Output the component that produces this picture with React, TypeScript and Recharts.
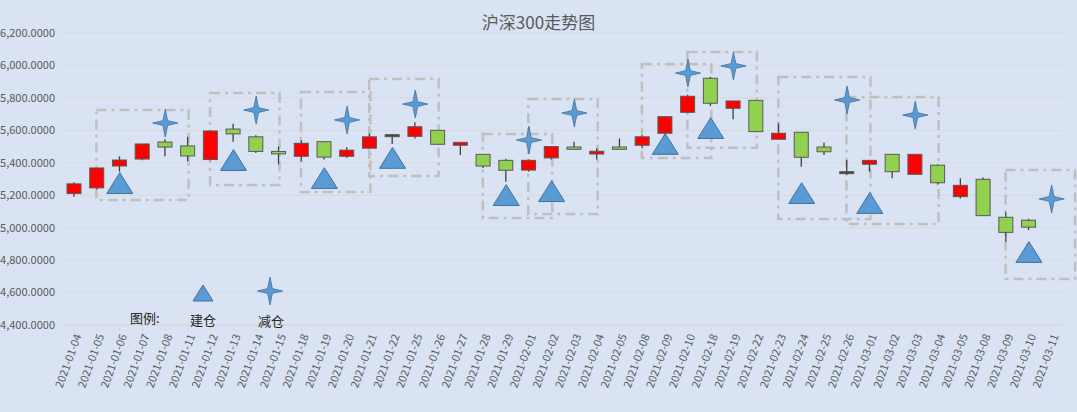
import React from 'react';
import {
  ComposedChart, Bar, Scatter, XAxis, YAxis, CartesianGrid, ReferenceArea,
} from 'recharts';

const dates = [
  '2021-01-04', '2021-01-05', '2021-01-06', '2021-01-07', '2021-01-08', '2021-01-11', '2021-01-12',
  '2021-01-13', '2021-01-14', '2021-01-15', '2021-01-18', '2021-01-19', '2021-01-20', '2021-01-21',
  '2021-01-22', '2021-01-25', '2021-01-26', '2021-01-27', '2021-01-28', '2021-01-29', '2021-02-01',
  '2021-02-02', '2021-02-03', '2021-02-04', '2021-02-05', '2021-02-08', '2021-02-09', '2021-02-10',
  '2021-02-18', '2021-02-19', '2021-02-22', '2021-02-23', '2021-02-24', '2021-02-25', '2021-02-26',
  '2021-03-01', '2021-03-02', '2021-03-03', '2021-03-04', '2021-03-05', '2021-03-08', '2021-03-09',
  '2021-03-10', '2021-03-11',
];

const opens = [5210, 5245, 5380, 5423, 5528, 5504, 5420, 5608, 5560, 5470, 5440, 5530, 5440, 5490,
  5567, 5563, 5600, 5508, 5452, 5415, 5355, 5430, 5497, 5454, 5497, 5508, 5582, 5711, 5921, 5736,
  5785, 5545, 5588, 5497, 5339, 5391, 5452, 5329, 5385, 5191, 5298, 5064, 5046, null];
const closes = [5270, 5368, 5417, 5516, 5497, 5442, 5596, 5578, 5470, 5455, 5520, 5435, 5478, 5560,
  5567, 5622, 5514, 5526, 5380, 5354, 5415, 5500, 5483, 5471, 5483, 5560, 5684, 5810, 5767, 5781,
  5592, 5582, 5434, 5468, 5339, 5415, 5345, 5452, 5277, 5261, 5074, 4971, 5003, null];
const highs = [5280, 5368, 5440, 5516, 5545, 5560, 5600, 5640, 5570, 5500, 5540, 5535, 5495, 5580,
  5575, 5650, 5600, 5526, 5452, 5425, 5420, 5500, 5530, 5490, 5550, 5570, 5684, 5820, 5930, 5781,
  5785, 5643, 5588, 5525, 5417, 5415, 5452, 5452, 5390, 5304, 5310, 5095, 5055, null];
const lows = [5190, 5235, 5345, 5415, 5440, 5410, 5415, 5530, 5460, 5390, 5410, 5420, 5430, 5490,
  5515, 5550, 5510, 5448, 5368, 5283, 5345, 5420, 5483, 5420, 5483, 5490, 5550, 5705, 5750, 5668,
  5592, 5545, 5376, 5448, 5325, 5345, 5304, 5325, 5265, 5180, 5074, 4914, 4985, null];

// 建仓 (triangle) and 减仓 (star) markers
const buyPoints: Record<string, number> = {
  '2021-01-06': 5275, '2021-01-13': 5417, '2021-01-19': 5306, '2021-01-22': 5430, '2021-01-29': 5201,
  '2021-02-02': 5225, '2021-02-09': 5516, '2021-02-18': 5614, '2021-02-24': 5213, '2021-03-01': 5152,
  '2021-03-10': 4850,
};
const sellPoints: Record<string, number> = {
  '2021-01-08': 5645, '2021-01-14': 5725, '2021-01-20': 5664, '2021-01-25': 5762, '2021-02-01': 5540,
  '2021-02-03': 5707, '2021-02-10': 5953, '2021-02-19': 5997, '2021-02-26': 5787, '2021-03-03': 5694,
  '2021-03-11': 5177,
};

// dashed boxes: [from, to, top, bottom]
const boxes: [string, string, number, number][] = [
  ['2021-01-06', '2021-01-08', 5725, 5170],
  ['2021-01-13', '2021-01-14', 5830, 5263],
  ['2021-01-19', '2021-01-20', 5836, 5220],
  ['2021-01-22', '2021-01-25', 5916, 5318],
  ['2021-01-29', '2021-02-01', 5577, 5060],
  ['2021-02-02', '2021-02-03', 5793, 5084],
  ['2021-02-09', '2021-02-10', 6009, 5430],
  ['2021-02-18', '2021-02-19', 6083, 5492],
  ['2021-02-24', '2021-02-26', 5929, 5053],
  ['2021-03-01', '2021-03-03', 5805, 5022],
  ['2021-03-10', '2021-03-11', 5356, 4684],
];

const yTicks = [4400, 4600, 4800, 5000, 5200, 5400, 5600, 5800, 6000, 6200];

const data = dates.map((d, i) => ({
  date: d,
  open: opens[i],
  close: closes[i],
  high: highs[i],
  low: lows[i],
  range: highs[i] == null ? null : [lows[i], highs[i]],
  buy: buyPoints[d] ?? null,
  sell: sellPoints[d] ?? null,
}));

const Candle = (props: any) => {
  const { x, y, width, height, payload } = props;
  if (payload.high == null) return null;
  const k = height / (payload.high - payload.low);
  const cx = x + width / 2;
  const top = Math.max(payload.open, payload.close);
  const bot = Math.min(payload.open, payload.close);
  const by = y + (payload.high - top) * k;
  const bh = Math.max((top - bot) * k, 1.5);
  const up = payload.close > payload.open;
  const doji = payload.close === payload.open;
  return (
    <g>
      <line x1={cx} x2={cx} y1={y} y2={y + height} stroke="#404040" strokeWidth={1.3} />
      <rect x={x} y={doji ? by - 1 : by} width={width} height={doji ? 2 : bh}
        fill={doji ? '#404040' : up ? '#ff0000' : '#92d050'} stroke="#595959" strokeWidth={1} />
    </g>
  );
};

const triPath = (cx: number, cy: number, w: number) =>
  `M${cx},${cy - w * 0.4} L${cx + w / 2},${cy + w * 0.4} L${cx - w / 2},${cy + w * 0.4} Z`;
const starPath = (cx: number, cy: number, r: number) => {
  const s = r * 0.17;
  return `M${cx},${cy - r} L${cx + s},${cy - s} L${cx + r * 0.9},${cy} L${cx + s},${cy + s} ` +
    `L${cx},${cy + r} L${cx - s},${cy + s} L${cx - r * 0.9},${cy} L${cx - s},${cy - s} Z`;
};

const Triangle = (props: any) => {
  if (props.payload?.buy == null) return null;
  return <path d={triPath(props.cx, props.cy, 26)} fill="#5b9bd5" stroke="#41719c" strokeWidth={1} />;
};
const Star = (props: any) => {
  if (props.payload?.sell == null) return null;
  return <path d={starPath(props.cx, props.cy, 14)} fill="#5b9bd5" stroke="#41719c" strokeWidth={0.8} />;
};

const Box = (props: any) => {
  const { x, y, width, height } = props;
  return (
    <rect x={x - 12} y={y} width={width + 24} height={height} fill="none"
      stroke="#bfbfbf" strokeWidth={2.5} strokeDasharray="10 5 3 5" />
  );
};

const fmt = (v: number) =>
  v.toLocaleString('en-US', { minimumFractionDigits: 4, maximumFractionDigits: 4 });

const font = '"Microsoft YaHei", "Noto Sans CJK SC", sans-serif';

export default function App() {
  return (
    <div style={{ position: 'absolute', left: 0, top: 0, width: 1077, height: 412, background: '#dae3f3', fontFamily: font }}>
      <div style={{ position: 'absolute', top: 9, width: '100%', textAlign: 'center', fontSize: 17, color: '#595959' }}>
        沪深300走势图
      </div>
      <ComposedChart width={1077} height={412} data={data}
        margin={{ top: 33, right: 14, bottom: 0, left: 0 }} barSize={14}>
        <CartesianGrid vertical={false} stroke="#d9d9d9" />
        <XAxis dataKey="date" interval={0} angle={-70} textAnchor="end" height={87}
          tick={{ fontSize: 11, fill: '#595959', fontFamily: font }}
          tickLine={{ stroke: '#d9d9d9' }} axisLine={{ stroke: '#d9d9d9' }} />
        <YAxis domain={[4400, 6200]} ticks={yTicks} tickFormatter={fmt} width={63}
          tick={{ fontSize: 11, fill: '#595959', fontFamily: font }} axisLine={false} tickLine={false} />
        {boxes.map(([a, b, t, btm], i) => (
          <ReferenceArea key={i} x1={a} x2={b} y1={btm} y2={t} shape={<Box />} ifOverflow="visible" />
        ))}
        <Bar dataKey="range" shape={<Candle />} isAnimationActive={false} />
        <Scatter dataKey="buy" shape={<Triangle />} isAnimationActive={false} />
        <Scatter dataKey="sell" shape={<Star />} isAnimationActive={false} />
      </ComposedChart>
      <div style={{ position: 'absolute', left: 130, top: 308, fontSize: 13, color: '#262626' }}>图例:</div>
      <div style={{ position: 'absolute', left: 190, top: 310, fontSize: 13, color: '#262626' }}>建仓</div>
      <div style={{ position: 'absolute', left: 258, top: 311, fontSize: 13, color: '#262626' }}>减仓</div>
      <svg style={{ position: 'absolute', left: 0, top: 0 }} width={1077} height={412} pointerEvents="none">
        <path d={triPath(203, 293, 20)} fill="#5b9bd5" stroke="#41719c" strokeWidth={1} />
        <path d={starPath(270, 291, 14)} fill="#5b9bd5" stroke="#41719c" strokeWidth={0.8} />
      </svg>
    </div>
  );
}
